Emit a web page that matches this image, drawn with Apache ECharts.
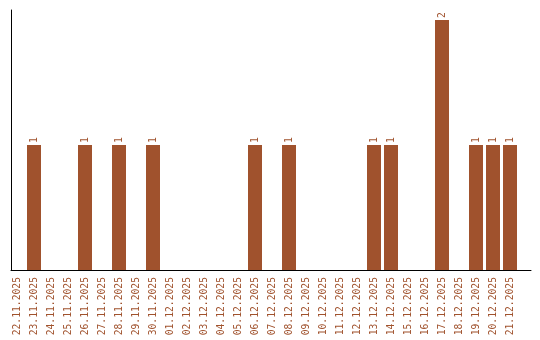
<!DOCTYPE html>
<html>
<head>
<meta charset="utf-8">
<script src="https://cdn.jsdelivr.net/npm/echarts@6/dist/echarts.min.js"></script>
<style>html,body{margin:0;padding:0;background:#fff}#c{width:540px;height:340px}</style>
</head>
<body>
<div id="c"></div>
<script>
const categories = ['22.11.2025','23.11.2025','24.11.2025','25.11.2025','26.11.2025','27.11.2025','28.11.2025','29.11.2025','30.11.2025','01.12.2025','02.12.2025','03.12.2025','04.12.2025','05.12.2025','06.12.2025','07.12.2025','08.12.2025','09.12.2025','10.12.2025','11.12.2025','12.12.2025','13.12.2025','14.12.2025','15.12.2025','16.12.2025','17.12.2025','18.12.2025','19.12.2025','20.12.2025','21.12.2025'];
const values = [0,1,0,0,1,0,1,0,1,0,0,0,0,0,1,0,1,0,0,0,0,1,1,0,0,2,0,1,1,1];

const brown = '#a0522d';
const font = 'DejaVu Sans Mono';
const chart = echarts.init(document.getElementById('c'), null, {renderer:'canvas'});
chart.setOption({
  animation: false,
  backgroundColor: '#fff',
  grid: [
    {left: 8.5, width: 510, top: 10, bottom: 70, containLabel: false},
    {left: 11, right: 9, top: 10, bottom: 70, containLabel: false}
  ],
  xAxis: [
    {type: 'category', gridIndex: 0, data: categories, boundaryGap: true,
     axisLine: {show: false}, axisTick: {show: false},
     axisLabel: {rotate: 90, interval: 0, margin: 7, color: brown, fontFamily: font, fontSize: 9.7}},
    {type: 'value', gridIndex: 1, min: 0, max: 1,
     axisLine: {show: true, onZero: false, lineStyle: {color: '#000', width: 1}},
     axisTick: {show: false}, axisLabel: {show: false}, splitLine: {show: false}}
  ],
  yAxis: [
    {type: 'value', gridIndex: 0, min: 0, max: 2.08, show: false},
    {type: 'value', gridIndex: 1, min: 0, max: 1,
     axisLine: {show: true, onZero: false, lineStyle: {color: '#000', width: 1}},
     axisTick: {show: false}, axisLabel: {show: false}, splitLine: {show: false}}
  ],
  series: [{
    type: 'bar', xAxisIndex: 0, yAxisIndex: 0,
    data: values,
    barWidth: 14,
    itemStyle: {color: brown},
    label: {show: true, position: 'top', rotate: 90, align: 'left', verticalAlign: 'middle',
            distance: 2, color: brown, fontFamily: font, fontSize: 9.7,
            formatter: p => p.value ? String(p.value) : ''}
  }]
});
</script>
</body>
</html>
